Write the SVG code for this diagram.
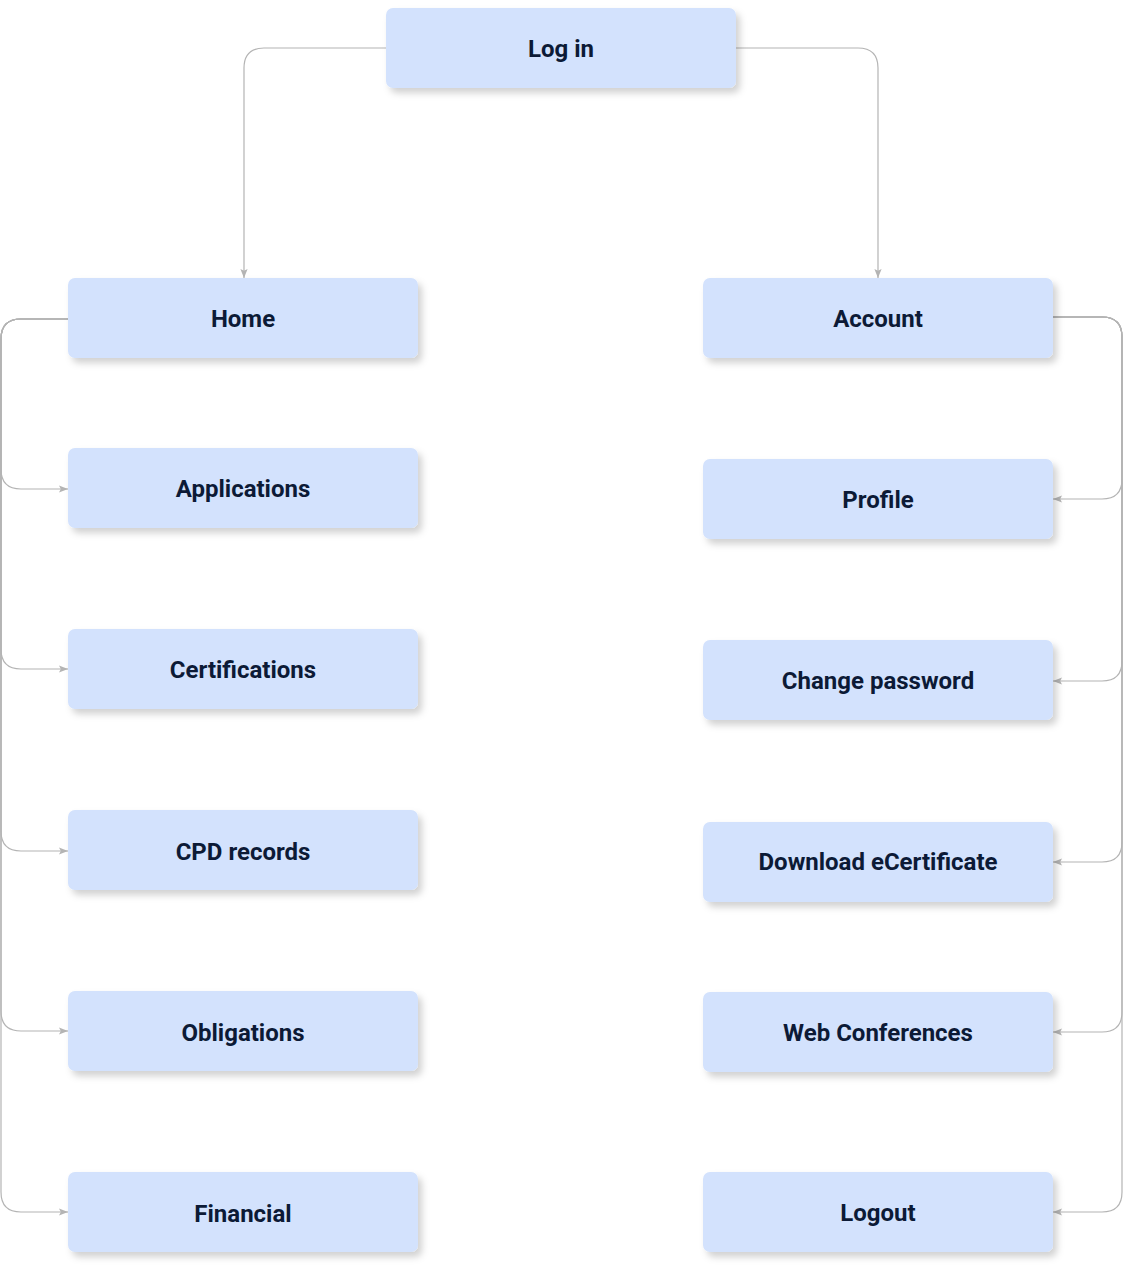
<svg xmlns="http://www.w3.org/2000/svg" width="1124" height="1275" viewBox="0 0 1124 1275">
<style>
.box{fill:#d3e2fd;filter:url(#sh)}
.lbl{font-family:Roboto,"Liberation Sans",sans-serif;font-weight:700;font-size:24px;fill:#0c1a36;text-anchor:middle}
.con{fill:none;stroke:#b4b4b4;stroke-width:1.2;marker-end:url(#ah)}
</style>
<defs>
<filter id="sh" x="-10%" y="-20%" width="125%" height="150%">
<feDropShadow dx="4" dy="5" stdDeviation="3.5" flood-color="#000" flood-opacity="0.18"/>
</filter>
<marker id="ah" viewBox="0 0 10 10" refX="10" refY="5" markerWidth="9" markerHeight="9" markerUnits="userSpaceOnUse" orient="auto">
<path d="M0,1 L10,5 L0,9 L2,5 Z" fill="#b4b4b4"/>
</marker>
</defs>
<g id="connectors">
<path class="con" d="M386,48 H264 Q244,48 244,68 V278"/>
<path class="con" d="M736,48 H858 Q878,48 878,68 V278"/>
<path class="con" d="M68,319 H21 Q1,319 1,339 V469 Q1,489 21,489 H68"/>
<path class="con" d="M68,319 H21 Q1,319 1,339 V649 Q1,669 21,669 H68"/>
<path class="con" d="M68,319 H21 Q1,319 1,339 V831 Q1,851 21,851 H68"/>
<path class="con" d="M68,319 H21 Q1,319 1,339 V1011 Q1,1031 21,1031 H68"/>
<path class="con" d="M68,319 H21 Q1,319 1,339 V1192 Q1,1212 21,1212 H68"/>
<path class="con" d="M1053,317 H1102 Q1122,317 1122,337 V479 Q1122,499 1102,499 H1053"/>
<path class="con" d="M1053,317 H1102 Q1122,317 1122,337 V661 Q1122,681 1102,681 H1053"/>
<path class="con" d="M1053,317 H1102 Q1122,317 1122,337 V842 Q1122,862 1102,862 H1053"/>
<path class="con" d="M1053,317 H1102 Q1122,317 1122,337 V1012 Q1122,1032 1102,1032 H1053"/>
<path class="con" d="M1053,317 H1102 Q1122,317 1122,337 V1192 Q1122,1212 1102,1212 H1053"/>
</g>
<g id="login"><rect class="box" x="386" y="8" width="350" height="80" rx="7"/><text class="lbl" x="561" y="57">Log in</text></g>
<g id="home"><rect class="box" x="68" y="278" width="350" height="80" rx="7"/><text class="lbl" x="243" y="327">Home</text></g>
<g id="applications"><rect class="box" x="68" y="448" width="350" height="80" rx="7"/><text class="lbl" x="243" y="497">Applications</text></g>
<g id="certifications"><rect class="box" x="68" y="629" width="350" height="80" rx="7"/><text class="lbl" x="243" y="678">Certifications</text></g>
<g id="cpd"><rect class="box" x="68" y="810" width="350" height="80" rx="7"/><text class="lbl" x="243" y="860">CPD records</text></g>
<g id="obligations"><rect class="box" x="68" y="991" width="350" height="80" rx="7"/><text class="lbl" x="243" y="1041">Obligations</text></g>
<g id="financial"><rect class="box" x="68" y="1172" width="350" height="80" rx="7"/><text class="lbl" x="243" y="1222">Financial</text></g>
<g id="account"><rect class="box" x="703" y="278" width="350" height="80" rx="7"/><text class="lbl" x="878" y="327">Account</text></g>
<g id="profile"><rect class="box" x="703" y="459" width="350" height="80" rx="7"/><text class="lbl" x="878" y="508">Profile</text></g>
<g id="changepw"><rect class="box" x="703" y="640" width="350" height="80" rx="7"/><text class="lbl" x="878" y="689">Change password</text></g>
<g id="download"><rect class="box" x="703" y="822" width="350" height="80" rx="7"/><text class="lbl" x="878" y="870">Download eCertificate</text></g>
<g id="webconf"><rect class="box" x="703" y="992" width="350" height="80" rx="7"/><text class="lbl" x="878" y="1041">Web Conferences</text></g>
<g id="logout"><rect class="box" x="703" y="1172" width="350" height="80" rx="7"/><text class="lbl" x="878" y="1221">Logout</text></g>
</svg>
